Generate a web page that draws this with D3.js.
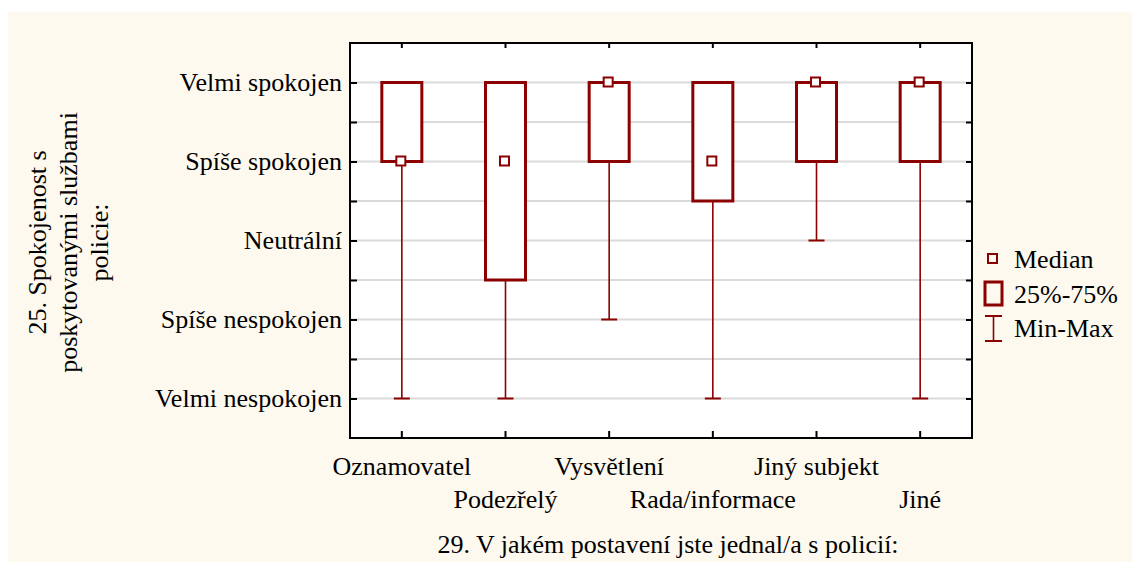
<!DOCTYPE html>
<html>
<head>
<meta charset="utf-8">
<script src="https://cdn.jsdelivr.net/npm/d3@7"></script>
</head>
<body style="margin:0; background:#fff">
<div id="chart"></div>
<script>
// data (1 = Velmi nespokojen ... 5 = Velmi spokojen)
const categories = ["Oznamovatel", "Podezřelý", "Vysvětlení", "Rada/informace", "Jiný subjekt", "Jiné"];
const minValues = [1, 1, 2, 1, 3, 1];
const q1Values = [4, 2.5, 4, 3.5, 4, 4];
const medianValues = [4, 4, 5, 4, 5, 5];
const q3Values = [5, 5, 5, 5, 5, 5];
const maxValues = [5, 5, 5, 5, 5, 5];
const levelLabels = ["Velmi nespokojen", "Spíše nespokojen", "Neutrální", "Spíše spokojen", "Velmi spokojen"];
const yTickValues = [1, 1.5, 2, 2.5, 3, 3.5, 4, 4.5, 5];
const legendLabels = ["Median", "25%-75%", "Min-Max"];

const width = 1132;
const height = 562;
const plot = { left: 350, right: 972, top: 43, bottom: 438 };
const red = "#8b0000";
const font = '"Liberation Serif", "Times New Roman", serif';

const boxes = categories.map((c, i) => ({
    name: c,
    min: minValues[i],
    q1: q1Values[i],
    median: medianValues[i],
    q3: q3Values[i],
    max: maxValues[i]
}));

const svg = d3.select("#chart")
    .append("svg")
    .attr("width", width)
    .attr("height", height);

// cream panel
svg.append("rect")
    .attr("x", 8)
    .attr("y", 12)
    .attr("width", width - 8)
    .attr("height", height - 12)
    .attr("fill", "#fdf9ef");

svg.append("rect")
    .attr("x", plot.left)
    .attr("y", plot.top)
    .attr("width", plot.right - plot.left)
    .attr("height", plot.bottom - plot.top)
    .attr("fill", "#fff");

const x = d3.scaleBand()
    .domain(categories)
    .range([plot.left, plot.right]);

const y = d3.scaleLinear()
    .domain([0.5, 5.5])
    .range([plot.bottom, plot.top]);

const cx = name => x(name) + x.bandwidth() / 2;

// gridlines
svg.append("g")
    .selectAll("line")
    .data(yTickValues)
    .enter()
    .append("line")
    .attr("x1", plot.left)
    .attr("x2", plot.right)
    .attr("y1", d => y(d))
    .attr("y2", d => y(d))
    .attr("stroke", "#dadada")
    .attr("stroke-width", 2);

// axes (ticks point inward)
svg.append("g")
    .attr("transform", `translate(${plot.left},0)`)
    .call(d3.axisLeft(y).tickValues(yTickValues).tickSizeInner(-7).tickSizeOuter(0).tickPadding(8)
        .tickFormat(d => Number.isInteger(d) ? levelLabels[d - 1] : ""))
    .call(g => g.select(".domain").remove());

svg.append("g")
    .attr("transform", `translate(${plot.right},0)`)
    .call(d3.axisRight(y).tickValues(yTickValues).tickSizeInner(-6).tickSizeOuter(0).tickFormat(""))
    .call(g => g.select(".domain").remove());

svg.append("g")
    .attr("transform", `translate(0,${plot.top})`)
    .call(d3.axisTop(x).tickSizeInner(-5).tickSizeOuter(0).tickFormat(""))
    .call(g => g.select(".domain").remove());

const xAxis = svg.append("g")
    .attr("transform", `translate(0,${plot.bottom})`)
    .call(d3.axisBottom(x).tickSizeInner(-7).tickSizeOuter(0))
    .call(g => g.select(".domain").remove());

xAxis.selectAll("text")
    .attr("dy", null)
    .attr("y", (d, i) => i % 2 === 0 ? 37 : 70);

svg.selectAll(".tick line")
    .attr("stroke", "#000")
    .attr("stroke-width", 2);

// frame
svg.append("rect")
    .attr("x", plot.left)
    .attr("y", plot.top)
    .attr("width", plot.right - plot.left)
    .attr("height", plot.bottom - plot.top)
    .attr("fill", "none")
    .attr("stroke", "#000")
    .attr("stroke-width", 2);

// whiskers
const whisk = svg.append("g");
boxes.forEach(b => {
    const c = cx(b.name);
    whisk.append("line")
        .attr("x1", c).attr("x2", c)
        .attr("y1", y(b.min)).attr("y2", y(b.q1))
        .attr("stroke", red).attr("stroke-width", 1.6);
    whisk.append("line")
        .attr("x1", c).attr("x2", c)
        .attr("y1", y(b.q3)).attr("y2", y(b.max))
        .attr("stroke", red).attr("stroke-width", 1.6);
    [b.min, b.max].forEach(v => {
        whisk.append("line")
            .attr("x1", c - 8).attr("x2", c + 8)
            .attr("y1", y(v)).attr("y2", y(v))
            .attr("stroke", red).attr("stroke-width", 2);
    });
});

// boxes
const boxW = 40;
svg.selectAll(".box")
    .data(boxes)
    .enter()
    .append("rect")
    .attr("class", "box")
    .attr("x", d => cx(d.name) - boxW / 2)
    .attr("y", d => y(d.q3))
    .attr("width", boxW)
    .attr("height", d => y(d.q1) - y(d.q3))
    .attr("fill", "#fff")
    .attr("stroke", red)
    .attr("stroke-width", 3);

// medians
svg.selectAll(".median")
    .data(boxes)
    .enter()
    .append("rect")
    .attr("class", "median")
    .attr("x", d => cx(d.name) - 5.5)
    .attr("y", d => y(d.median) - 5)
    .attr("width", 9)
    .attr("height", 9)
    .attr("fill", "#fff")
    .attr("stroke", red)
    .attr("stroke-width", 2);

// axis titles
svg.append("text")
    .attr("x", (plot.left + plot.right) / 2 + 7)
    .attr("y", 553)
    .attr("text-anchor", "middle")
    .text("29. V jakém postavení jste jednal/a s policií:");

const yTitle = ["25. Spokojenost s", "poskytovanými službami", "policie:"];
svg.append("g")
    .attr("transform", `translate(46,${(plot.top + plot.bottom) / 2 + 2}) rotate(-90)`)
    .selectAll("text")
    .data(yTitle)
    .enter()
    .append("text")
    .attr("x", 0)
    .attr("y", (d, i) => i * 31)
    .attr("text-anchor", "middle")
    .text(d => d);

// legend
const lg = svg.append("g");
lg.append("rect")
    .attr("x", 988).attr("y", 254)
    .attr("width", 9).attr("height", 9)
    .attr("fill", "none").attr("stroke", red).attr("stroke-width", 2);
lg.append("rect")
    .attr("x", 985).attr("y", 282)
    .attr("width", 17).attr("height", 23)
    .attr("fill", "none").attr("stroke", red).attr("stroke-width", 3);
lg.append("line")
    .attr("x1", 993.5).attr("x2", 993.5).attr("y1", 316).attr("y2", 341)
    .attr("stroke", red).attr("stroke-width", 1.6);
[316, 341].forEach(v => {
    lg.append("line")
        .attr("x1", 985).attr("x2", 1002).attr("y1", v).attr("y2", v)
        .attr("stroke", red).attr("stroke-width", 2);
});
lg.selectAll("text")
    .data(legendLabels)
    .enter()
    .append("text")
    .attr("x", 1014)
    .attr("y", (d, i) => 268 + i * 34.5)
    .text(d => d);

// one font for every label
svg.selectAll("text")
    .style("font-family", font)
    .style("font-size", "26px")
    .style("fill", "#000");
</script>
</body>
</html>
